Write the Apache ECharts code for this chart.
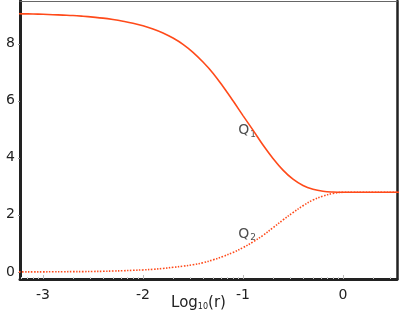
<!DOCTYPE html>
<html><head><meta charset="utf-8">
<script src="https://cdn.jsdelivr.net/npm/echarts@6/dist/echarts.min.js"></script>
<style>html,body{margin:0;padding:0;background:#fff}#c{width:399px;height:316px}</style>
</head><body><div id="c"></div>
<script>
var logR = [-3.3,-3.2,-3.1,-3.0,-2.9,-2.8,-2.7,-2.6,-2.5,-2.4,-2.3,-2.2,-2.1,-2.0,-1.9,-1.8,-1.7,-1.6,-1.5,-1.4,-1.3,-1.2,-1.1,-1.0,-0.9,-0.8,-0.7,-0.6,-0.5,-0.4,-0.3,-0.2,-0.1,0.0,0.1,0.2,0.3,0.4,0.5,0.6];
var q1 =   [9.055,9.05,9.045,9.035,9.02,9.005,8.99,8.965,8.935,8.90,8.85,8.79,8.72,8.63,8.52,8.38,8.20,7.98,7.70,7.36,6.97,6.50,6.00,5.48,4.97,4.45,3.98,3.57,3.25,3.03,2.90,2.83,2.80,2.79,2.79,2.79,2.79,2.79,2.79,2.79];
var q2 =   [0.0,0.0,0.0,0.0,0.005,0.005,0.01,0.01,0.015,0.02,0.03,0.04,0.055,0.07,0.09,0.12,0.16,0.20,0.25,0.32,0.42,0.54,0.68,0.85,1.05,1.28,1.55,1.82,2.08,2.32,2.52,2.66,2.75,2.79,2.79,2.79,2.79,2.79,2.79,2.79];
var xTicks = [-3,-2,-1,0];
var yTicks = [0,2,4,6,8];
var minorTicks = [];
[-4,-3,-2,-1,0].forEach(function(d){for(var k=2;k<=9;k++){minorTicks.push(d+Math.log10(k));}});
var labels = [{x:-0.96,y:4.95,name:'Q',sub:'1'},{x:-0.96,y:1.33,name:'Q',sub:'2'}];
var XMIN=-3.23, XMAX=0.54, YMIN=-0.25, YMAX=9.5;
var font='DejaVu Sans';
var col='#ff4a1a';
var chart = echarts.init(document.getElementById('c'));
chart.setOption({
  animation:false,
  textStyle:{fontFamily:font},
  grid:{left:20,right:2,top:1,bottom:37,containLabel:false,outerBoundsMode:'none'},
  xAxis:[{
    type:'value',min:XMIN,max:XMAX,
    axisLine:{onZero:false,lineStyle:{color:'#222',width:3}},
    axisTick:{show:true,inside:true,length:4,customValues:xTicks,lineStyle:{color:'#bbb'}},
    axisLabel:{customValues:xTicks,color:'#222',fontSize:14,fontFamily:font,margin:9},
    splitLine:{show:false},
    name:'{n|Log}{s|10}{n|(r)}',nameLocation:'middle',nameGap:16,nameMoveOverlap:false,
    nameTextStyle:{padding:[0,20,0,0],rich:{n:{fontSize:15,fontFamily:font,color:'#222'},s:{fontSize:8,fontFamily:font,color:'#222',verticalAlign:'bottom',padding:[8,0,0,0]}}}
  },{
    type:'value',min:XMIN,max:XMAX,position:'bottom',
    axisLine:{show:false,onZero:false},
    axisTick:{show:true,inside:true,length:2,customValues:minorTicks.filter(function(v){return v>XMIN&&v<XMAX;}),lineStyle:{color:'#ccc'}},
    axisLabel:{show:false},splitLine:{show:false}
  },{
    type:'value',min:XMIN,max:XMAX,position:'top',
    axisLine:{onZero:false,lineStyle:{color:'#666',width:1}},axisTick:{show:false},axisLabel:{show:false},splitLine:{show:false}
  }],
  yAxis:[{
    type:'value',min:YMIN,max:YMAX,
    axisLine:{show:true,onZero:false,lineStyle:{color:'#222',width:3}},
    axisTick:{show:true,length:2,customValues:yTicks,lineStyle:{color:'#999'}},
    axisLabel:{customValues:yTicks,color:'#222',fontSize:14,fontFamily:font,margin:5},
    splitLine:{show:false}
  },{
    type:'value',min:YMIN,max:YMAX,position:'right',
    axisLine:{show:true,onZero:false,lineStyle:{color:'#222',width:2.5}},axisTick:{show:false},axisLabel:{show:false},splitLine:{show:false}
  }],
  series:[{
    type:'line',smooth:0.4,symbol:'none',clip:true,
    data:logR.map(function(x,i){return [x,q1[i]];}),
    lineStyle:{color:col,width:1.6}
  },{
    type:'line',smooth:0.4,symbol:'none',clip:true,
    data:logR.map(function(x,i){return [x,q2[i]];}),
    lineStyle:{color:col,width:1.6,type:[1.5,1.5]}
  },{
    type:'scatter',symbolSize:0,silent:true,
    data:labels.map(function(l){return {value:[l.x,l.y],label:{formatter:'{n|'+l.name+'}{s|'+l.sub+'}'}};}),
    label:{show:true,position:'inside',rich:{n:{fontSize:14,fontFamily:font,color:'#222'},s:{fontSize:9,fontFamily:font,color:'#222',verticalAlign:'bottom',padding:[7,0,0,1]}}}
  }]
});
</script></body></html>
